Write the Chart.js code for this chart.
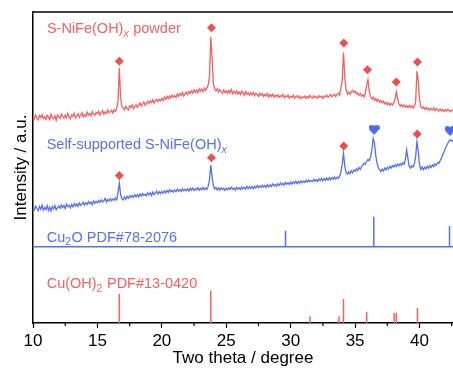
<!DOCTYPE html>
<html><head><meta charset="utf-8">
<script src="https://cdn.jsdelivr.net/npm/chart.js@4"></script>
<style>html,body{margin:0;padding:0;background:#fff}#wrap{width:453px;height:371px}</style>
</head><body><div id="wrap"><canvas id="c" width="453" height="371"></canvas></div>
<script>
// ---- DATA ----
// 2-theta sampling grid of the measured patterns (degrees)
const thetaStart = 10.0;
const thetaStep = 0.1;
// S-NiFe(OH)x powder, intensity (a.u., offset stacked)
const powderY = [
66.4,65.6,66.9,66.0,65.3,66.7,66.1,67.0,65.8,66.3,
65.5,66.8,66.2,65.4,67.1,66.0,65.7,66.6,65.2,66.9,
66.3,65.8,67.2,66.5,65.9,66.8,66.0,67.4,66.2,65.7,
66.9,66.4,67.5,65.9,66.7,67.3,66.1,66.8,67.6,66.3,
67.0,66.4,67.8,66.9,67.4,66.6,68.0,67.2,66.8,67.7,
67.3,68.1,66.9,67.6,68.3,67.1,67.9,67.4,68.5,67.6,
67.9,68.4,67.5,68.6,68.0,69.0,71.5,82.0,72.5,69.6,
69.2,68.6,69.7,69.0,68.5,69.8,69.3,70.1,68.9,69.6,
70.2,69.4,70.0,70.8,69.7,70.5,71.1,70.0,70.7,71.3,
70.6,71.4,70.9,71.8,70.7,71.5,72.0,71.2,71.9,71.4,
72.2,71.5,72.6,71.9,72.9,72.1,73.0,72.4,73.3,72.6,
73.1,72.5,73.6,72.9,73.8,73.2,74.1,73.0,73.7,74.3,
73.5,74.4,73.8,74.7,73.9,75.0,74.2,74.9,74.0,75.3,
74.6,75.2,74.4,75.5,74.8,75.6,76.5,79.5,92.0,85.0,
77.0,75.4,74.6,75.3,74.2,75.0,74.4,73.8,74.9,74.1,
74.7,73.9,74.8,74.0,75.1,73.7,74.5,73.8,74.6,73.6,
74.3,73.5,74.6,73.9,73.2,74.4,73.6,74.1,73.3,74.0,
73.4,74.2,73.1,73.8,73.5,72.9,73.9,73.2,73.7,72.8,
73.5,73.0,73.8,72.7,73.4,72.9,73.6,72.6,73.3,72.8,
73.4,72.5,73.1,72.8,73.5,72.4,73.0,72.7,73.3,72.3,
72.9,72.6,73.2,72.2,72.8,73.1,72.4,72.9,72.1,72.7,
72.5,73.0,72.2,72.8,72.4,73.2,72.6,72.3,73.0,72.5,
72.8,72.3,73.1,72.6,72.9,72.2,73.0,72.7,73.3,72.5,
72.9,73.4,72.7,73.2,73.6,72.8,73.5,73.9,73.3,75.5,
78.0,87.0,79.0,75.0,73.6,74.2,73.5,74.4,74.8,74.1,
74.6,73.7,74.0,73.2,73.8,72.9,73.4,72.7,74.0,76.5,
78.3,74.6,72.8,72.0,72.6,71.6,72.2,71.3,71.9,71.0,
71.5,70.8,71.3,70.5,71.0,70.2,70.8,70.0,70.6,70.1,
70.7,72.0,74.4,72.3,70.4,69.8,70.3,69.5,70.1,69.4,
69.9,69.3,70.0,69.2,69.8,69.1,69.7,71.0,81.0,78.0,
72.0,69.6,69.0,69.5,68.7,69.3,68.6,69.1,68.4,69.0,
68.5,69.2,68.3,68.9,68.6,68.1,68.8,68.2,68.7,68.0,
68.6,68.1,68.7,68.3,67.9,68.5,68.2];
// Self-supported S-NiFe(OH)x
const selfY = [
37.2,36.4,37.6,36.8,36.1,37.5,36.6,37.9,36.3,37.1,
36.5,37.7,36.2,37.3,36.0,37.4,36.7,37.8,36.4,37.0,
37.6,36.9,38.0,37.1,37.8,36.8,38.2,37.4,37.9,37.0,
38.1,37.3,38.4,37.6,38.3,37.5,38.6,37.8,38.2,38.8,
37.9,38.7,38.1,39.0,38.3,38.9,38.0,39.2,38.5,39.1,
38.6,39.4,38.8,39.6,38.9,39.3,40.1,38.9,39.7,39.2,
40.0,39.3,39.9,39.5,40.2,39.6,42.0,45.0,41.2,40.0,
39.6,40.5,39.8,40.7,40.1,40.9,40.3,41.0,40.4,41.2,
40.6,41.3,40.5,41.5,40.8,41.6,41.0,41.4,40.9,41.8,
41.2,41.9,41.0,42.1,41.3,41.8,42.4,41.5,42.2,41.6,
42.3,41.7,42.5,41.8,42.6,42.0,42.9,42.2,42.7,42.1,
42.8,42.2,43.0,42.4,42.9,42.3,43.2,42.5,43.0,42.6,
43.1,42.4,43.3,42.7,43.4,42.6,43.2,42.8,43.5,42.7,
43.3,42.8,43.6,42.9,43.4,43.0,44.0,46.0,50.8,47.0,
44.2,43.1,43.6,42.8,43.4,42.7,43.5,42.9,43.3,42.6,
43.4,42.8,43.5,42.9,43.7,43.0,43.4,42.7,43.6,43.0,
43.5,42.9,43.7,43.1,43.6,43.0,43.9,43.2,43.8,43.3,
43.9,43.2,44.0,43.4,44.2,43.5,44.1,43.6,44.3,43.7,
44.2,43.6,44.5,43.8,44.4,43.9,44.7,44.1,44.6,44.0,
44.8,44.2,45.0,44.4,44.9,44.3,45.2,44.6,45.1,44.5,
45.3,44.7,45.4,44.9,45.6,44.8,45.5,45.0,45.7,45.1,
45.6,45.2,45.9,45.3,46.0,45.4,45.8,45.5,46.2,45.6,
46.1,45.5,46.3,45.8,46.5,45.7,46.4,45.9,46.6,46.0,
46.7,46.0,46.8,46.2,47.0,46.3,46.9,46.5,47.3,48.5,
51.0,54.6,50.5,48.4,47.8,48.6,48.0,49.0,48.3,49.2,
48.8,49.6,49.0,50.0,49.4,50.3,50.8,51.4,51.0,52.0,
52.6,52.2,53.4,55.5,59.4,58.0,54.0,51.5,50.0,49.2,
48.7,49.5,48.9,49.8,49.2,50.1,49.5,50.4,49.8,50.6,
50.1,50.9,50.3,51.1,50.5,51.3,50.7,51.5,51.0,52.5,
55.6,53.0,50.4,49.8,50.6,50.1,51.2,53.5,58.3,55.2,
51.0,49.4,50.2,49.3,50.1,49.5,50.4,49.8,50.6,50.0,
50.8,50.3,51.2,50.7,51.6,51.3,52.2,53.0,54.1,55.0,
56.2,57.0,57.8,58.6,58.9,58.5,58.8];
// Reference patterns (stick positions, relative intensities)
const cu2oPos = [29.6, 36.45, 42.33];
const cu2oInt = [5.2, 9.7, 6.7];
const cuoh2Pos = [16.7, 23.8, 31.5, 33.75, 34.1, 35.9, 38.03, 38.2, 39.84];
const cuoh2Int = [9.3, 10.3, 2.2, 2.2, 7.7, 3.5, 3.2, 3.3, 4.8];
// Phase markers
const powderDiaX = [16.7, 23.85, 34.12, 35.96, 38.2, 39.84];
const powderDiaY = [84.2, 94.9, 90.0, 81.4, 77.5, 83.9];
const selfDiaX = [16.7, 23.85, 34.12, 39.82];
const selfDiaY = [47.4, 53.1, 56.9, 60.8];
const selfHeartX = [36.47, 42.37];
const selfHeartY = [62.1, 61.7];
const xTickLabels = [10, 15, 20, 25, 30, 35, 40];
const xMinor = [12.5, 17.5, 22.5, 27.5, 32.5, 37.5, 42.5];

// ---- STYLE ----
const RED = '#f65f5f', RED_M = '#f04d4d', BLUE = '#5470f2', BLUE_M = '#4a68f0';
const FONT = '"Liberation Sans", Arial, Helvetica, sans-serif';
const cu2oBase = 24.5;
const xMin = 10, xMax = 42.6;

function series(arr){ return arr.map((v,i)=>({x: +(thetaStart + i*thetaStep).toFixed(2), y: v})); }
function sticks(pos, ints, base){
  const out = [];
  pos.forEach((p,i)=>{ out.push({x:p,y:base},{x:p,y:base+ints[i]},{x:p,y:null}); });
  return out;
}
function pts(xs, ys){ return xs.map((x,i)=>({x, y: ys[i]})); }
function heartImg(color){
  const w=11,h=10,c=document.createElement('canvas'); c.width=w; c.height=h;
  const g=c.getContext('2d'); g.fillStyle=color; g.beginPath();
  g.arc(2.9,3,2.9,Math.PI,0); g.arc(8.1,3,2.9,Math.PI,0);
  g.lineTo(10.8,4.2); g.lineTo(5.5,10); g.lineTo(0.2,4.2); g.closePath(); g.fill();
  return c;
}

const labels = [
  {x:11.08, y:93.15, color:RED, parts:[{t:'S-NiFe(OH)'},{t:'x',sub:true,it:true},{t:' powder'}]},
  {x:11.06, y:55.8, color:BLUE, parts:[{t:'Self-supported S-NiFe(OH)'},{t:'x',sub:true,it:true}]},
  {x:11.06, y:26.1, color:BLUE, parts:[{t:'Cu'},{t:'2',sub:true},{t:'O PDF#78-2076'}]},
  {x:11.06, y:11.2, color:RED, parts:[{t:'Cu(OH)'},{t:'2',sub:true},{t:' PDF#13-0420'}]},
];

const decor = {
  id:'decor',
  afterDraw(chart){
    const {ctx, chartArea:a, scales:{x,y}} = chart;
    ctx.save();
    ctx.strokeStyle='#000'; ctx.lineWidth=1.5;
    ctx.beginPath(); ctx.moveTo(a.left-0.75, a.top); ctx.lineTo(a.right, a.top); ctx.stroke();
    ctx.lineWidth=1.2;
    xMinor.forEach(v=>{ const px=x.getPixelForValue(v); if(px<=a.right){ ctx.beginPath(); ctx.moveTo(px,a.bottom); ctx.lineTo(px,a.bottom+3); ctx.stroke(); }});
    labels.forEach(L=>{
      let px = x.getPixelForValue(L.x), py = y.getPixelForValue(L.y);
      ctx.fillStyle = L.color; ctx.textBaseline='alphabetic'; ctx.textAlign='left';
      L.parts.forEach(p=>{
        ctx.font = (p.it?'italic ':'') + (p.sub?'10.5px ':'14.5px ') + FONT;
        ctx.fillText(p.t, px, py + (p.sub?3.5:0));
        px += ctx.measureText(p.t).width + (p.sub?0.5:0);
      });
    });
    ctx.restore();
  }
};

new Chart(document.getElementById('c'), {
  type:'scatter',
  data:{datasets:[
    {data:series(powderY), showLine:true, borderColor:RED, borderWidth:1.3, pointRadius:0},
    {data:series(selfY), showLine:true, borderColor:BLUE, borderWidth:1.3, pointRadius:0},
    {data:[{x:xMin,y:cu2oBase},{x:xMax,y:cu2oBase}], showLine:true, borderColor:BLUE, borderWidth:1.5, pointRadius:0},
    {data:sticks(cu2oPos, cu2oInt, cu2oBase), showLine:true, spanGaps:false, borderColor:BLUE, borderWidth:1.5, pointRadius:0},
    {data:sticks(cuoh2Pos, cuoh2Int, 0), showLine:true, spanGaps:false, borderColor:RED, borderWidth:1.5, pointRadius:0},
    {data:pts(powderDiaX, powderDiaY), pointStyle:'rectRot', pointRadius:4.5, backgroundColor:RED_M, borderWidth:0},
    {data:pts(selfDiaX, selfDiaY), pointStyle:'rectRot', pointRadius:4.5, backgroundColor:RED_M, borderWidth:0},
    {data:pts(selfHeartX, selfHeartY), pointStyle:heartImg(BLUE_M), pointRadius:5},
  ]},
  options:{
    responsive:false, animation:false, devicePixelRatio:1,
    layout:{autoPadding:false, padding:{top:12,left:0,right:0,bottom:0}},
    plugins:{legend:{display:false}, tooltip:{enabled:false}},
    scales:{
      x:{type:'linear', min:xMin, max:xMax,
        afterFit(s){ s.height = 48; s.paddingLeft = 0; s.paddingRight = 0; },
        afterBuildTicks(s){ s.ticks = xTickLabels.map(v=>({value:v})); },
        ticks:{includeBounds:false, color:'#000', font:{family:FONT, size:17}, padding:3, maxRotation:0},
        grid:{display:true, drawOnChartArea:false, drawTicks:true, tickLength:5, tickColor:'#000', tickWidth:1.2},
        border:{display:true, color:'#000', width:1.5},
        title:{display:true, text:'Two theta / degree', color:'#000', font:{family:FONT, size:17}, padding:{top:0,bottom:2}}
      },
      y:{type:'linear', min:0, max:100,
        afterFit(s){ s.width = 33; s.paddingTop = 0; s.paddingBottom = 0; },
        ticks:{display:false},
        grid:{display:false},
        border:{display:true, color:'#000', width:1.5},
        title:{display:true, text:'Intensity / a.u.', color:'#000', font:{family:FONT, size:17}, padding:{top:11,bottom:0}}
      }
    }
  },
  plugins:[decor]
});
</script></body></html>
